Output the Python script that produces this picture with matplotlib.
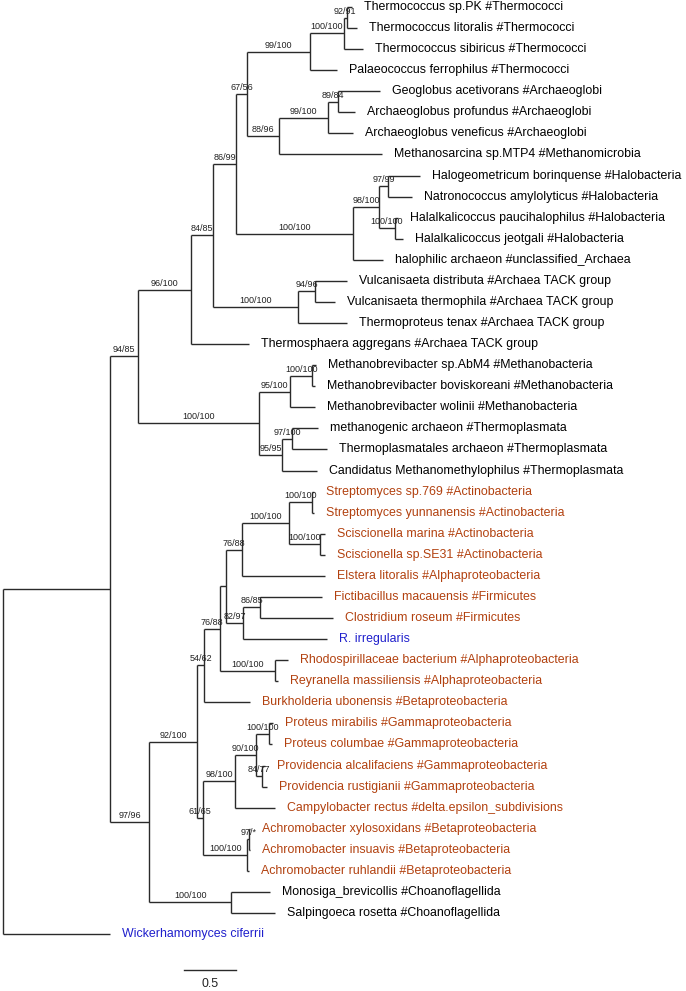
import matplotlib
matplotlib.use('Agg')
import matplotlib.pyplot as plt

plt.rcParams['font.family'] = ['Liberation Sans', 'DejaVu Sans']

# internal nodes: name, parent, branch length, support (bootstrap ML/NJ)
node_names = ['root', 'IN', 'A', 'B', 'C', 'D', 'E', 'F', 'H', 'I', 'G', 'J', 'K',
              'HALO', 'L', 'M', 'N', 'TACK', 'O', 'P', 'Q', 'T', 'R', 'S',
              'BC', 'U', 'V', 'AD', 'AH', 'AE', 'AI', 'AK', 'AL', 'AF', 'AJ', 'AG',
              'W', 'X', 'AA', 'AB', 'AC', 'Y', 'Z', 'CH']
node_parent = [None, 'root', 'IN', 'A', 'B', 'C', 'D', 'E', 'F', 'H', 'E', 'G', 'J',
               'D', 'HALO', 'L', 'L', 'C', 'TACK', 'A', 'P', 'Q', 'P', 'R',
               'IN', 'BC', 'U', 'V', 'AD', 'AH', 'AE', 'AI', 'AI', 'AH', 'AF', 'AD',
               'U', 'W', 'X', 'AA', 'AA', 'W', 'Y', 'BC']
node_len = [0, 1.03, 0.27, 0.51, 0.21, 0.22, 0.105, 0.605, 0.327, 0.029, 0.308, 0.471, 0.096,
            1.125, 0.25, 0.087, 0.154, 0.817, 0.163, 1.163, 0.298, 0.212, 0.221, 0.096,
            0.375, 0.462, 0.067, 0.154, 0.058, 0.154, 0.452, 0.221, 0.298, 0.163, 0.163, 0.529,
            0.058, 0.308, 0.202, 0.125, 0.058, 0.423, 0.019, 0.788]
node_support = ['', '', '94/85', '96/100', '84/85', '86/99', '67/56', '99/100', '100/100', '92/91',
                '88/96', '99/100', '89/84', '100/100', '98/100', '97/99', '100/100', '100/100',
                '94/96', '100/100', '95/100', '100/100', '95/95', '97/100',
                '97/96', '92/100', '54/62', '76/88', '', '76/88', '100/100', '100/100', '100/100',
                '82/97', '86/85', '100/100', '61/65', '98/100', '90/100', '100/100', '84/77',
                '100/100', '97/*', '100/100']

# leaves top to bottom
leaf_names = [
    'Thermococcus sp.PK #Thermococci', 'Thermococcus litoralis #Thermococci',
    'Thermococcus sibiricus #Thermococci', 'Palaeococcus ferrophilus #Thermococci',
    'Geoglobus acetivorans #Archaeoglobi', 'Archaeoglobus profundus #Archaeoglobi',
    'Archaeoglobus veneficus #Archaeoglobi', 'Methanosarcina sp.MTP4 #Methanomicrobia',
    'Halogeometricum borinquense #Halobacteria', 'Natronococcus amylolyticus #Halobacteria',
    'Halalkalicoccus paucihalophilus #Halobacteria', 'Halalkalicoccus jeotgali #Halobacteria',
    'halophilic archaeon #unclassified_Archaea', 'Vulcanisaeta distributa #Archaea TACK group',
    'Vulcanisaeta thermophila #Archaea TACK group', 'Thermoproteus tenax #Archaea TACK group',
    'Thermosphaera aggregans #Archaea TACK group', 'Methanobrevibacter sp.AbM4 #Methanobacteria',
    'Methanobrevibacter boviskoreani #Methanobacteria', 'Methanobrevibacter wolinii #Methanobacteria',
    'methanogenic archaeon #Thermoplasmata', 'Thermoplasmatales archaeon #Thermoplasmata',
    'Candidatus Methanomethylophilus #Thermoplasmata',
    'Streptomyces sp.769 #Actinobacteria', 'Streptomyces yunnanensis #Actinobacteria',
    'Sciscionella marina #Actinobacteria', 'Sciscionella sp.SE31 #Actinobacteria',
    'Elstera litoralis #Alphaproteobacteria', 'Fictibacillus macauensis #Firmicutes',
    'Clostridium roseum #Firmicutes', 'R. irregularis',
    'Rhodospirillaceae bacterium #Alphaproteobacteria', 'Reyranella massiliensis #Alphaproteobacteria',
    'Burkholderia ubonensis #Betaproteobacteria', 'Proteus mirabilis #Gammaproteobacteria',
    'Proteus columbae #Gammaproteobacteria', 'Providencia alcalifaciens #Gammaproteobacteria',
    'Providencia rustigianii #Gammaproteobacteria', 'Campylobacter rectus #delta.epsilon_subdivisions',
    'Achromobacter xylosoxidans #Betaproteobacteria', 'Achromobacter insuavis #Betaproteobacteria',
    'Achromobacter ruhlandii #Betaproteobacteria', 'Monosiga_brevicollis #Choanoflagellida',
    'Salpingoeca rosetta #Choanoflagellida', 'Wickerhamomyces ciferrii']
leaf_parent = ['I', 'I', 'H', 'F', 'K', 'K', 'J', 'G', 'M', 'M', 'N', 'N', 'HALO', 'O', 'O',
               'TACK', 'B', 'T', 'T', 'Q', 'S', 'S', 'R',
               'AK', 'AK', 'AL', 'AL', 'AE', 'AJ', 'AJ', 'AF', 'AG', 'AG', 'V',
               'AB', 'AB', 'AC', 'AC', 'X', 'Z', 'Z', 'Y', 'CH', 'CH', 'root']
leaf_len = [0.048, 0.096, 0.183, 0.26, 0.404, 0.163, 0.24, 0.99, 0.308, 0.231, 0.029, 0.077,
            0.288, 0.308, 0.192, 0.471, 0.558, 0.038, 0.029, 0.24, 0.25, 0.337, 0.337,
            0.019, 0.019, 0.048, 0.048, 0.798, 0.596, 0.702, 0.808, 0.125, 0.029, 0.442,
            0.038, 0.029, 0.029, 0.048, 0.385, 0.01, 0.01, 0.02, 0.375, 0.423, 1.029]
# 0 = archaea/eukaryote (black), 1 = bacteria (brown), 2 = fungi/query (blue)
leaf_group = [0] * 23 + [1] * 7 + [2] + [1] * 11 + [0, 0, 2]
group_colors = ['black', '#B2410F', '#1F1FCC']

# ---- layout ----
parent_of = dict(zip(node_names, node_parent))
length_of = dict(zip(node_names, node_len))
children = {n: [] for n in node_names}
for n, p in zip(node_names, node_parent):
    if p is not None:
        children[p].append(n)
for i, p in enumerate(leaf_parent):
    children[p].append(i)

xpos, ypos = {}, {}

def place_x(n, x0):
    xpos[n] = x0
    for c in children[n]:
        if isinstance(c, int):
            xpos[('leaf', c)] = x0 + leaf_len[c]
        else:
            place_x(c, x0 + length_of[c])

def place_y(n):
    ys = []
    for c in children[n]:
        if isinstance(c, int):
            ys.append(c)
        else:
            ys.append(place_y(c))
    ypos[n] = (min(ys) + max(ys)) / 2
    return ypos[n]

place_x('root', 0.0)
place_y('root')

fig = plt.figure(figsize=(6.86, 9.91), dpi=100)
ax = fig.add_axes([0, 0, 1, 1])
px = 1 / 104.0            # one pixel in branch length units
rowpx = 21.07             # pixels per leaf row
ax.set_xlim(-3 * px, 683 * px)
ax.set_ylim((991 - 7) / rowpx, -7 / rowpx)
ax.axis('off')

lc = '#2a2a2a'
lw = 1.0

for n in node_names:
    ys = [c if isinstance(c, int) else ypos[c] for c in children[n]]
    ax.plot([xpos[n], xpos[n]], [min(ys), max(ys)], color=lc, lw=lw, solid_capstyle='butt')
    p = parent_of[n]
    if p is not None:
        ax.plot([xpos[p], xpos[n]], [ypos[n], ypos[n]], color=lc, lw=lw, solid_capstyle='butt')

for n, s in zip(node_names, node_support):
    if s:
        p = parent_of[n]
        ax.text((xpos[p] + xpos[n]) / 2, ypos[n] - 2.0 / rowpx, s, ha='center', va='bottom',
                fontsize=6.5, color='#222222')

for i, name in enumerate(leaf_names):
    p = leaf_parent[i]
    xe = xpos[('leaf', i)]
    ax.plot([xpos[p], xe], [i, i], color=lc, lw=lw, solid_capstyle='butt')
    ax.text(xe + 12 * px, i, name, ha='left', va='center', fontsize=8.9,
            color=group_colors[leaf_group[i]])

# scale bar
sb_x0 = 181 * px
sb_y = (970 - 7) / rowpx
ax.plot([sb_x0, sb_x0 + 0.5], [sb_y, sb_y], color=lc, lw=lw)
ax.text(sb_x0 + 0.25, sb_y + 8 / rowpx, '0.5', ha='center', va='top', fontsize=8.9, color='#222222')

fig.savefig('out.png', dpi=100)
